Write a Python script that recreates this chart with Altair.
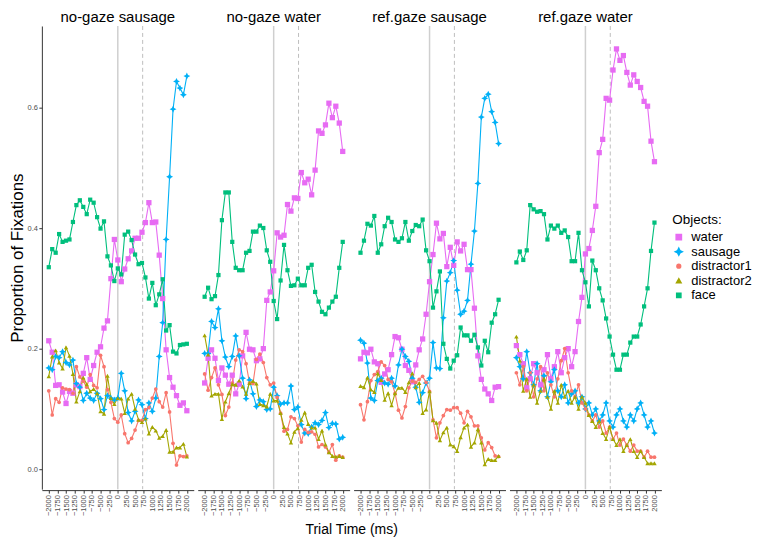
import altair as alt
import pandas as pd

times = list(range(-2000, 2001, 100))
panels = ["no-gaze sausage", "no-gaze water", "ref.gaze sausage", "ref.gaze water"]
objects = ["water", "sausage", "distractor1", "distractor2", "face"]
colors = ["#E76BF3", "#00B0F6", "#F8766D", "#A3A500", "#00BF7D"]

# ---- no-gaze sausage
p1_water = [0.213, 0.194, 0.139, 0.140, 0.128, 0.109, 0.129, 0.126, 0.140, 0.137, 0.159, 0.185, 0.149, 0.172, 0.194, 0.203, 0.234, 0.246, 0.316, 0.381, 0.347, 0.311, 0.332, 0.349, 0.362, 0.383, 0.383, 0.393, 0.409, 0.442, 0.409, 0.410, 0.355, 0.283, 0.198, 0.152, 0.136, 0.122, 0.106, 0.110, 0.097]
p1_sausage = [0.168, 0.165, 0.187, 0.185, 0.195, 0.177, 0.173, 0.181, 0.142, 0.136, 0.114, 0.126, 0.118, 0.114, 0.126, 0.117, 0.099, 0.122, 0.118, 0.115, 0.118, 0.159, 0.130, 0.094, 0.080, 0.096, 0.115, 0.107, 0.084, 0.110, 0.096, 0.118, 0.187, 0.243, 0.381, 0.485, 0.597, 0.643, 0.632, 0.621, 0.652]
p1_distractor1 = [0.130, 0.090, 0.117, 0.111, 0.135, 0.133, 0.132, 0.126, 0.170, 0.153, 0.146, 0.136, 0.157, 0.139, 0.135, 0.189, 0.170, 0.132, 0.111, 0.084, 0.078, 0.090, 0.059, 0.044, 0.051, 0.065, 0.081, 0.081, 0.099, 0.102, 0.118, 0.133, 0.112, 0.103, 0.127, 0.095, 0.043, 0.007, 0.022, 0.021, 0.022]
p1_distractor2 = [0.154, 0.187, 0.197, 0.177, 0.167, 0.202, 0.188, 0.158, 0.112, 0.129, 0.152, 0.141, 0.129, 0.133, 0.126, 0.096, 0.092, 0.155, 0.118, 0.108, 0.118, 0.117, 0.093, 0.117, 0.125, 0.100, 0.082, 0.078, 0.084, 0.059, 0.070, 0.064, 0.052, 0.055, 0.065, 0.029, 0.029, 0.036, 0.036, 0.042, 0.021]
p1_face = [0.335, 0.365, 0.359, 0.390, 0.377, 0.379, 0.381, 0.410, 0.438, 0.446, 0.435, 0.423, 0.447, 0.442, 0.418, 0.399, 0.411, 0.353, 0.338, 0.312, 0.333, 0.323, 0.389, 0.394, 0.380, 0.356, 0.340, 0.342, 0.318, 0.283, 0.309, 0.272, 0.290, 0.315, 0.230, 0.239, 0.195, 0.192, 0.206, 0.207, 0.208]

# ---- no-gaze water
p2_water = [0.143, 0.184, 0.198, 0.184, 0.147, 0.168, 0.156, 0.141, 0.156, 0.125, 0.141, 0.188, 0.227, 0.199, 0.198, 0.180, 0.183, 0.200, 0.280, 0.294, 0.329, 0.392, 0.385, 0.388, 0.439, 0.428, 0.450, 0.449, 0.492, 0.475, 0.481, 0.455, 0.496, 0.561, 0.557, 0.571, 0.607, 0.583, 0.602, 0.574, 0.527]
p2_sausage = [0.192, 0.192, 0.245, 0.235, 0.266, 0.213, 0.186, 0.170, 0.187, 0.221, 0.188, 0.151, 0.117, 0.148, 0.125, 0.104, 0.115, 0.112, 0.099, 0.100, 0.136, 0.122, 0.108, 0.110, 0.110, 0.138, 0.099, 0.103, 0.074, 0.060, 0.059, 0.070, 0.077, 0.074, 0.081, 0.094, 0.069, 0.076, 0.075, 0.050, 0.053]
p2_distractor1 = [0.158, 0.131, 0.152, 0.168, 0.140, 0.124, 0.089, 0.103, 0.143, 0.181, 0.198, 0.195, 0.175, 0.143, 0.142, 0.182, 0.191, 0.177, 0.152, 0.140, 0.143, 0.119, 0.093, 0.063, 0.066, 0.087, 0.084, 0.072, 0.045, 0.066, 0.061, 0.062, 0.058, 0.037, 0.041, 0.037, 0.028, 0.041, 0.015, 0.022, 0.020]
p2_distractor2 = [0.222, 0.190, 0.122, 0.125, 0.125, 0.083, 0.112, 0.126, 0.141, 0.140, 0.147, 0.137, 0.125, 0.143, 0.146, 0.142, 0.108, 0.106, 0.104, 0.125, 0.114, 0.114, 0.093, 0.070, 0.059, 0.044, 0.062, 0.068, 0.082, 0.094, 0.075, 0.069, 0.069, 0.050, 0.064, 0.041, 0.028, 0.022, 0.021, 0.022, 0.020]
p2_face = [0.286, 0.301, 0.282, 0.287, 0.322, 0.413, 0.459, 0.459, 0.377, 0.334, 0.330, 0.330, 0.359, 0.362, 0.394, 0.394, 0.404, 0.400, 0.363, 0.344, 0.279, 0.249, 0.313, 0.372, 0.330, 0.304, 0.305, 0.316, 0.305, 0.305, 0.334, 0.339, 0.294, 0.278, 0.261, 0.257, 0.268, 0.278, 0.286, 0.334, 0.377]

# ---- ref.gaze sausage
p3_water = [0.183, 0.194, 0.193, 0.199, 0.178, 0.175, 0.144, 0.158, 0.165, 0.190, 0.220, 0.218, 0.199, 0.172, 0.164, 0.145, 0.173, 0.198, 0.216, 0.257, 0.311, 0.356, 0.408, 0.382, 0.391, 0.336, 0.368, 0.338, 0.377, 0.362, 0.373, 0.331, 0.331, 0.267, 0.188, 0.149, 0.133, 0.125, 0.114, 0.136, 0.137]
p3_sausage = [0.214, 0.209, 0.176, 0.118, 0.114, 0.147, 0.151, 0.143, 0.141, 0.151, 0.138, 0.173, 0.199, 0.187, 0.179, 0.151, 0.136, 0.111, 0.127, 0.143, 0.151, 0.210, 0.168, 0.167, 0.251, 0.312, 0.326, 0.346, 0.297, 0.257, 0.262, 0.280, 0.340, 0.395, 0.474, 0.584, 0.615, 0.622, 0.593, 0.575, 0.540]
p3_distractor1 = [0.107, 0.082, 0.112, 0.147, 0.157, 0.162, 0.178, 0.172, 0.149, 0.145, 0.126, 0.098, 0.085, 0.104, 0.135, 0.146, 0.144, 0.149, 0.154, 0.144, 0.129, 0.082, 0.052, 0.077, 0.089, 0.099, 0.098, 0.102, 0.102, 0.093, 0.077, 0.096, 0.087, 0.072, 0.072, 0.052, 0.032, 0.044, 0.036, 0.022, 0.021]
p3_distractor2 = [0.138, 0.136, 0.152, 0.132, 0.128, 0.159, 0.148, 0.115, 0.126, 0.106, 0.126, 0.135, 0.135, 0.128, 0.144, 0.159, 0.136, 0.143, 0.093, 0.099, 0.129, 0.081, 0.077, 0.048, 0.061, 0.069, 0.041, 0.038, 0.030, 0.053, 0.069, 0.074, 0.037, 0.044, 0.066, 0.044, 0.008, 0.017, 0.015, 0.015, 0.022]
p3_face = [0.359, 0.379, 0.407, 0.404, 0.420, 0.359, 0.373, 0.403, 0.417, 0.410, 0.381, 0.377, 0.383, 0.410, 0.379, 0.395, 0.405, 0.403, 0.414, 0.363, 0.345, 0.268, 0.295, 0.328, 0.208, 0.183, 0.167, 0.180, 0.189, 0.235, 0.222, 0.222, 0.213, 0.223, 0.202, 0.172, 0.213, 0.194, 0.243, 0.257, 0.281]

# ---- ref.gaze water
p4_water = [0.205, 0.190, 0.175, 0.135, 0.150, 0.175, 0.160, 0.140, 0.165, 0.190, 0.150, 0.170, 0.195, 0.160, 0.185, 0.200, 0.170, 0.195, 0.245, 0.285, 0.357, 0.366, 0.396, 0.436, 0.525, 0.547, 0.615, 0.612, 0.662, 0.697, 0.678, 0.686, 0.658, 0.637, 0.654, 0.643, 0.633, 0.610, 0.602, 0.544, 0.510]
p4_sausage = [0.185, 0.170, 0.150, 0.195, 0.160, 0.140, 0.175, 0.130, 0.155, 0.120, 0.145, 0.165, 0.130, 0.120, 0.140, 0.110, 0.125, 0.130, 0.110, 0.120, 0.100, 0.110, 0.090, 0.100, 0.080, 0.090, 0.110, 0.080, 0.070, 0.090, 0.100, 0.080, 0.070, 0.090, 0.080, 0.100, 0.110, 0.090, 0.070, 0.080, 0.060]
p4_distractor1 = [0.160, 0.140, 0.170, 0.130, 0.160, 0.120, 0.150, 0.170, 0.130, 0.160, 0.140, 0.120, 0.150, 0.180, 0.200, 0.160, 0.130, 0.120, 0.140, 0.110, 0.100, 0.090, 0.080, 0.090, 0.070, 0.080, 0.060, 0.070, 0.050, 0.060, 0.040, 0.050, 0.040, 0.030, 0.040, 0.030, 0.030, 0.020, 0.030, 0.020, 0.020]
p4_distractor2 = [0.220, 0.180, 0.130, 0.150, 0.120, 0.140, 0.110, 0.130, 0.150, 0.120, 0.100, 0.130, 0.110, 0.140, 0.120, 0.130, 0.110, 0.120, 0.100, 0.120, 0.110, 0.090, 0.080, 0.070, 0.080, 0.060, 0.050, 0.070, 0.050, 0.040, 0.050, 0.030, 0.040, 0.050, 0.030, 0.020, 0.030, 0.020, 0.010, 0.010, 0.010]
p4_face = [0.343, 0.361, 0.347, 0.363, 0.438, 0.431, 0.427, 0.428, 0.423, 0.381, 0.404, 0.399, 0.404, 0.392, 0.396, 0.385, 0.345, 0.345, 0.392, 0.330, 0.310, 0.270, 0.346, 0.330, 0.300, 0.280, 0.250, 0.220, 0.190, 0.165, 0.165, 0.190, 0.190, 0.210, 0.220, 0.220, 0.240, 0.270, 0.300, 0.362, 0.409]

series = {
    "no-gaze sausage": [p1_water, p1_sausage, p1_distractor1, p1_distractor2, p1_face],
    "no-gaze water": [p2_water, p2_sausage, p2_distractor1, p2_distractor2, p2_face],
    "ref.gaze sausage": [p3_water, p3_sausage, p3_distractor1, p3_distractor2, p3_face],
    "ref.gaze water": [p4_water, p4_sausage, p4_distractor1, p4_distractor2, p4_face],
}

rows = []
for panel in panels:
    for obj, vals in zip(objects, series[panel]):
        for t, v in zip(times, vals):
            rows.append({"panel": panel, "obj": obj, "t": t, "v": v})
df = pd.DataFrame(rows)

FONT = "Liberation Sans"
star = "M0,-1L0.33,-0.33L1,0L0.33,0.33L0,1L-0.33,0.33L-1,0L-0.33,-0.33Z"
shapes = ["square", star, "circle", "triangle-up", "square"]
sizes = [28, 48, 14, 20, 18]

xs = alt.Scale(domain=[-2200, 2200], nice=False, zero=False)
ys = alt.Scale(domain=[-0.033, 0.735], nice=False, zero=False)
x_axis = alt.Axis(values=list(range(-2000, 2001, 250)), labelAngle=270,
                  labelOverlap=False, labelFlush=False, format="d", title=None)
x_enc = alt.X("t:Q", scale=xs, axis=x_axis)
y_enc = alt.Y("v:Q", scale=ys, title="Proportion of Fixations",
              axis=alt.Axis(values=[0, 0.2, 0.4, 0.6], format=".1f", labelFlush=False))
cscale = alt.Scale(domain=objects, range=colors)
LT = "Objects:"

base = alt.Chart()
one = "datum.t == 0 && datum.obj == 'water'"
rule0 = base.transform_filter(one).mark_rule(color="#CFCFCF", strokeWidth=1.5).encode(
    x=alt.X(datum=0, type="quantitative", scale=xs, axis=x_axis))
rule1 = base.transform_filter(one).mark_rule(color="#BDBDBD", strokeWidth=1, strokeDash=[4, 3]).encode(
    x=alt.X(datum=720, type="quantitative", scale=xs, axis=x_axis))
lines = base.mark_line(strokeWidth=1.1).encode(
    x=x_enc, y=y_enc,
    color=alt.Color("obj:N", scale=cscale, sort=objects, title=LT),
)
points = base.mark_point(filled=True, opacity=1, strokeWidth=0).encode(
    x=x_enc, y=y_enc,
    color=alt.Color("obj:N", scale=cscale, sort=objects, title=LT),
    shape=alt.Shape("obj:N", scale=alt.Scale(domain=objects, range=shapes), sort=objects, title=LT),
    size=alt.Size("obj:N", scale=alt.Scale(type="ordinal", domain=objects, range=sizes), sort=objects, title=LT),
)

layered = alt.layer(rule0, rule1, lines, points, data=df).properties(width=152.5, height=465)

chart = layered.facet(
    column=alt.Column("panel:N", sort=panels, title="Trial Time (ms)",
                      header=alt.Header(labelFontSize=15, labelFont=FONT, labelColor="black",
                                        labelPadding=0, labelOrient="top",
                                        titleOrient="bottom", titleFontSize=14, titleFont=FONT,
                                        titleFontWeight="normal", titleColor="black", titlePadding=-3)),
    spacing=3.5,
).properties(
    padding={"left": 0, "top": 1, "right": 0, "bottom": 0}
).configure_view(stroke=None).configure_axis(
    grid=False, domainColor="#333333", domainWidth=1, tickColor="#333333", tickSize=3,
    labelColor="#4D4D4D", labelFont=FONT, labelFontSize=7.5, labelPadding=1.5,
    titleFont=FONT, titleFontSize=17, titleFontWeight="normal", titleColor="black", titlePadding=1,
).configure_legend(
    orient="none", legendX=633, legendY=188,
    titleFont=FONT, titleFontSize=13.5, titleFontWeight="normal", titleColor="black",
    labelFont=FONT, labelFontSize=13, labelColor="black", rowPadding=0.6, labelOffset=6,
    titlePadding=4, padding=0,
)

chart.save("out.html", embed_options={"renderer": "svg", "actions": False})
